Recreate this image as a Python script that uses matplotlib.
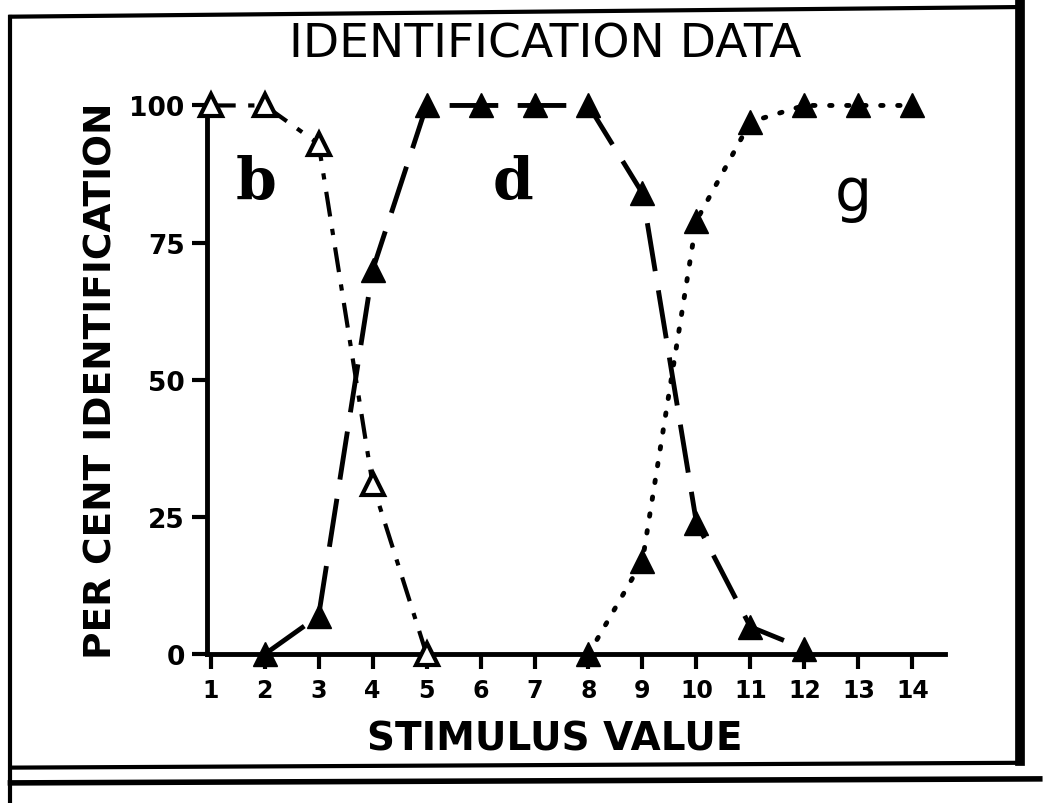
import matplotlib
matplotlib.use("Agg")
import matplotlib.pyplot as plt
from matplotlib.lines import Line2D

# ---------------------------------- data ----------------------------------
b_x = [1, 2, 3, 4, 5]
b_y = [100, 100, 93, 31, 0]

d_x = [2, 3, 4, 5, 6, 7, 8, 9, 10, 11, 12]
d_y = [0, 7, 70, 100, 100, 100, 100, 84, 24, 5, 1]

g_x = [8, 9, 10, 11, 12, 13, 14]
g_y = [0, 17, 79, 97, 100, 100, 100]

x_ticks = list(range(1, 15))
y_ticks = [0, 25, 50, 75, 100]

fig = plt.figure(figsize=(10.45, 8.04), dpi=100)
ax = fig.add_axes([0.198, 0.185, 0.706, 0.686])

ax.plot(b_x, b_y, color='black', lw=3, dashes=(6, 3, 1.5, 3), marker='^', ms=16,
        mfc='white', mec='black', mew=3, clip_on=False, zorder=3)
ax.plot(d_x, d_y, color='black', lw=3.5, dashes=(10, 4), marker='^', ms=17,
        mfc='black', mec='black', clip_on=False, zorder=3)
ax.plot(g_x, g_y, color='black', lw=3.5, dashes=(0.5, 3), dash_capstyle='round', marker='^', ms=17,
        mfc='black', mec='black', clip_on=False, zorder=3)

ax.set_xlim(0.93, 14.6)
ax.set_ylim(0, 100.5)
ax.set_xticks(x_ticks)
ax.set_yticks(y_ticks)
ax.set_xticklabels([str(v) for v in x_ticks], fontsize=17, fontweight='bold')
ax.set_yticklabels([str(v) for v in y_ticks], fontsize=19, fontweight='bold')
ax.tick_params(axis='both', direction='out', length=11, width=3, color='black')
ax.tick_params(axis='x', pad=6)
ax.tick_params(axis='y', pad=5)

for side in ['top', 'right']:
    ax.spines[side].set_visible(False)
for side in ['left', 'bottom']:
    ax.spines[side].set_linewidth(3.5)

fig.text(0.531, 0.080, 'STIMULUS VALUE', fontsize=28, fontweight='bold', ha='center', va='center')
fig.text(0.097, 0.527, 'PER CENT IDENTIFICATION', fontsize=27, fontweight='bold',
         rotation=90, ha='center', va='center')
fig.text(0.522, 0.944, 'IDENTIFICATION DATA', fontsize=34, ha='center', va='center')

# phoneme labels
ax.text(1.85, 86, 'b', fontsize=42, fontweight='bold', family='DejaVu Serif', ha='center', va='center')
ax.text(6.6, 86, 'd', fontsize=42, fontweight='bold', family='DejaVu Serif', ha='center', va='center')
ax.text(12.9, 84, 'g', fontsize=42, family='DejaVu Sans', ha='center', va='center')

# frame around the figure
frame = [
    ([0.010, 0.976], [0.978, 0.990], 3),
    ([0.010, 0.010], [0.978, 0.0], 3),
    ([0.976, 0.976], [0.995, 0.052], 7),
    ([0.010, 0.976], [0.044, 0.050], 3),
    ([0.010, 0.995], [0.025, 0.030], 4),
]
for xs, ys, w in frame:
    fig.add_artist(Line2D(xs, ys, transform=fig.transFigure, color='black', lw=w))

plt.savefig('out.png', dpi=100)
